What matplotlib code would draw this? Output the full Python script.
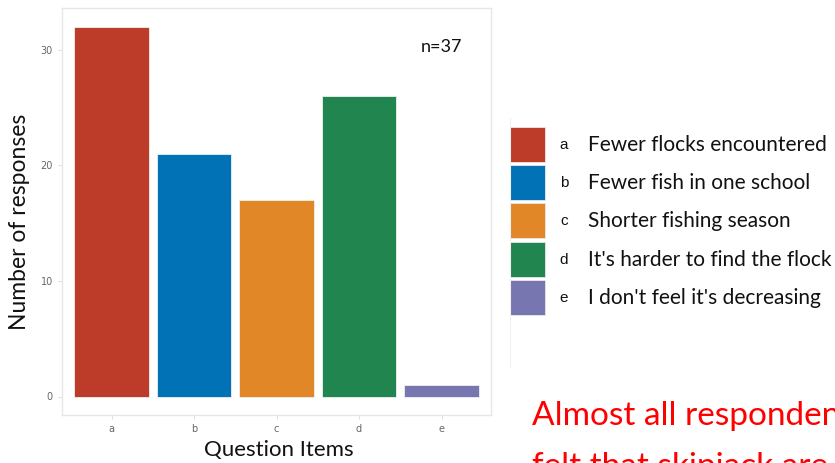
import matplotlib.pyplot as plt
from matplotlib.patches import Rectangle

# Survey results
items = ['a', 'b', 'c', 'd', 'e']
counts = [32, 21, 17, 26, 1]
descriptions = ['Fewer flocks encountered', 'Fewer fish in one school',
                'Shorter fishing season', "It's harder to find the flock",
                "I don't feel it's decreasing"]
colors = ['#BC3C29', '#0072B5', '#E18727', '#20854E', '#7876B1']
yticks = [0, 10, 20, 30]

W, H = 835, 463
fig = plt.figure(figsize=(W / 100, H / 100), dpi=100)
fig.patch.set_facecolor('white')

def fx(px):
    return px / W

def fy(py):
    return 1 - py / H

ax = fig.add_axes([fx(62), fy(415), fx(491) - fx(62), fy(8) - fy(415)])
x = range(1, len(items) + 1)
ax.bar(x, counts, width=0.9, color=colors, edgecolor='#f0f0f0', linewidth=0.6)
ax.set_xlim(0.4, 5.6)
ax.set_ylim(-1.6, 33.6)
ax.set_xticks(list(x))
ax.set_xticklabels(items)
ax.set_yticks(yticks)
ax.tick_params(colors='#d9d9d9', labelcolor='#666666', labelsize=7, length=3, width=0.6)
for s in ax.spines.values():
    s.set_color('#e6e6e6')
    s.set_linewidth(1.0)

fig.text(fx(442), fy(47), 'n=37', fontsize=13, family='Lato',
         ha='center', va='center', color='#111111')

fig.text(fx(279), fy(450), 'Question Items', fontsize=16, family='Lato',
         ha='center', va='center', color='#111111')
fig.text(fx(20), fy(222), 'Number of responses', fontsize=16.5, family='Lato',
         rotation=90, ha='center', va='center', color='#111111')

# faint separator left of the legend
fig.add_artist(plt.Line2D([fx(510), fx(510)], [fy(118), fy(367)],
                          color='#f0f0f0', linewidth=0.8))

# legend
top = 127
for i, (it, desc, c) in enumerate(zip(items, descriptions, colors)):
    y0 = top + i * 38.2
    fig.add_artist(Rectangle((fx(510), fy(y0 + 35)), fx(35), 35 / H,
                             facecolor=c, edgecolor='#e8e8e8', linewidth=0.6))
    fig.text(fx(564), fy(y0 + 18), it, fontsize=11, family='Liberation Sans',
             ha='center', va='center', color='#111111')
    fig.text(fx(588), fy(y0 + 18), desc, fontsize=15, family='Lato',
             ha='left', va='center', color='#111111')

# note running off the right/bottom edge of the slide
fig.text(fx(532), fy(416), 'Almost all respondents', fontsize=24, family='Lato',
         ha='left', va='center', color='#FF0000')
fig.text(fx(532), fy(467), 'felt that skipjack are', fontsize=24, family='Lato',
         ha='left', va='center', color='#FF0000')

fig.savefig('out.png', dpi=100)
